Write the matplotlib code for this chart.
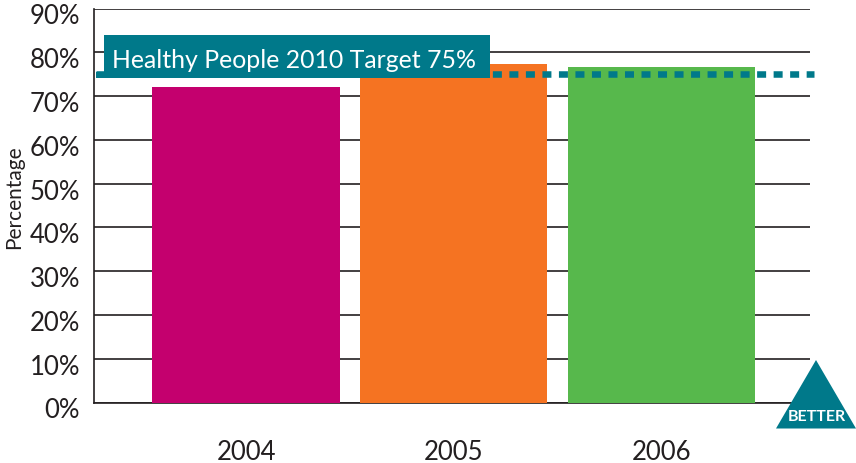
import matplotlib
matplotlib.use("Agg")
import matplotlib.pyplot as plt
from matplotlib.patches import Polygon, Rectangle
from matplotlib.transforms import ScaledTranslation

years = ["2004", "2005", "2006"]
values = [72, 77.4, 76.7]
bar_colors = ["#C4006E", "#F57322", "#57B84C"]
yticks = [0, 10, 20, 30, 40, 50, 60, 70, 80, 90]
target = 75
target_label = "Healthy People 2010 Target 75%"

TEAL = "#00798A"
W, H = 856, 464

plt.rcParams["font.family"] = ["Lato", "DejaVu Sans"]

def fx(px):
    return px / W

def fy(py):
    return 1 - py / H

fig = plt.figure(figsize=(W / 100, H / 100), dpi=100)
ax = fig.add_axes([fx(94), fy(403.5), fx(810) - fx(94), fy(9.5) - fy(403.5)])

ax.bar(range(3), values, width=0.903, color=bar_colors, zorder=3)
ax.set_xlim(-0.733, 2.716)
ax.set_ylim(0, 90)

ax.set_yticks(yticks)
ax.set_yticklabels([f"{v}%" for v in yticks], fontsize=18.5, color="#231F20")
ax.set_xticks(range(3))
ax.set_xticklabels(years, fontsize=18.5, color="#231F20")
ax.tick_params(axis="y", length=0, pad=10)
ax.tick_params(axis="x", length=0, pad=26)
ax.grid(axis="y", color="#231F20", lw=1.2, zorder=1)
ax.set_axisbelow(True)

# labels sit a bit under their gridlines
for label in ax.get_yticklabels():
    label.set_transform(label.get_transform() + ScaledTranslation(0, -5 / 100, fig.dpi_scale_trans))

for side in ["top", "right"]:
    ax.spines[side].set_visible(False)
for side in ["left", "bottom"]:
    ax.spines[side].set_color("#231F20")
    ax.spines[side].set_linewidth(1.2)

# target line runs a little past the plot on both sides
ax.plot([-0.725, 2.733], [target, target], color=TEAL, lw=4.7,
        dashes=(1.38, 1.15), zorder=4, clip_on=False, dash_capstyle="butt")

# label box sits over the line and the bars
fig.add_artist(Rectangle((fx(96), fy(79)), fx(104) - fx(96), fy(73) - fy(79),
                         color=TEAL, lw=0, zorder=5))
fig.add_artist(Rectangle((fx(104), fy(79)), fx(490) - fx(104), fy(36) - fy(79),
                         color=TEAL, lw=0, zorder=5))
fig.text(fx(112), fy(61), target_label, color="white", fontsize=17.9,
         va="center", ha="left", zorder=6)

fig.text(fx(14), fy(197), "Percentage", rotation=90, fontsize=15,
         color="#231F20", va="center", ha="center")

# BETTER arrow
fig.add_artist(Polygon([(fx(776), fy(429.5)), (fx(816), fy(361)), (fx(856), fy(429.5))],
                       closed=True, color=TEAL, lw=0, zorder=5))
fig.text(fx(817), fy(417), "BETTER", color="white", fontsize=11.5, fontweight="bold",
         va="center", ha="center", zorder=6)

fig.savefig("out.png", dpi=100)
